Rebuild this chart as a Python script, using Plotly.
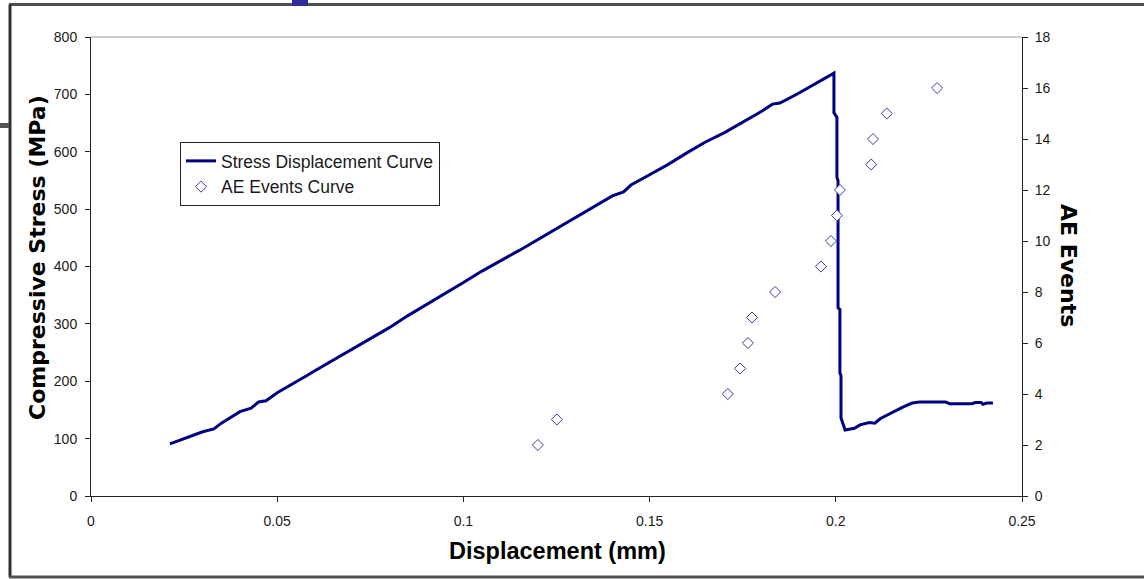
import plotly.graph_objects as go

# ---- data ----
disp_mm = [0.0212, 0.025, 0.030, 0.033, 0.035, 0.040, 0.043, 0.045, 0.047, 0.050, 0.055, 0.058,
           0.060, 0.065, 0.070, 0.075, 0.080, 0.085, 0.090, 0.095, 0.100, 0.105, 0.110,
           0.113, 0.115, 0.120, 0.125, 0.130, 0.135, 0.140, 0.143, 0.145, 0.150, 0.155,
           0.160, 0.165, 0.170, 0.175, 0.180, 0.183, 0.185, 0.190, 0.195, 0.1995,
           0.1995, 0.2003, 0.2003, 0.2006, 0.2006, 0.2011, 0.2011, 0.2014, 0.2014, 0.2020,
           0.2025, 0.2050, 0.2065, 0.2090, 0.2105, 0.2120, 0.2135, 0.2155, 0.2180, 0.2205,
           0.2225, 0.2295, 0.2305, 0.2365, 0.2375, 0.2390, 0.2395, 0.2405, 0.2422]
stress_mpa = [91, 100, 112, 117, 127, 147, 153, 164, 166, 180, 198, 210,
              218, 237, 255, 274, 293, 314, 333, 352, 372, 392, 411,
              421, 428, 447, 466, 486, 505, 523, 530, 542, 560, 578,
              598, 617, 633, 652, 670, 683, 685, 702, 720, 737,
              668, 660, 555, 550, 328, 325, 214, 210, 136, 125,
              115, 118, 124, 128, 127, 135, 140, 148, 155, 162,
              164, 164, 161, 161, 163, 163, 160, 162, 162]

ae_disp_mm = [0.1200, 0.1251, 0.1710, 0.1743, 0.1764, 0.1775, 0.1837, 0.1960,
              0.1987, 0.2003, 0.2011, 0.2095, 0.2100, 0.2137, 0.2272]
ae_events = [2, 3, 4, 5, 6, 7, 8, 9, 10, 11, 12, 13, 14, 15, 16]

x_ticks = [0, 0.05, 0.1, 0.15, 0.2, 0.25]
x_ticktext = ["0", "0.05", "0.1", "0.15", "0.2", "0.25"]

LINE_COLOR = "#000080"
MARKER_COLOR = "#3a3aa0"
FONT = "Liberation Sans, Arial, sans-serif"

fig = go.Figure()
fig.add_trace(go.Scatter(
    x=disp_mm, y=stress_mpa, mode="lines", name="Stress Displacement Curve",
    line=dict(color=LINE_COLOR, width=3), yaxis="y"))
fig.add_trace(go.Scatter(
    x=ae_disp_mm, y=ae_events, mode="markers", name="AE Events Curve",
    marker=dict(symbol="diamond", size=8.5, color="white",
                line=dict(color=MARKER_COLOR, width=1)),
    yaxis="y2"))

W, H = 1144, 579
L, R, T, B = 91, 122, 37, 83
pw, ph = W - L - R, H - T - B

def px(xp):
    return (xp - L) / pw

def py(yp):
    return (H - B - yp) / ph

tickfont = dict(family=FONT, size=14, color="#1a1a1a")

fig.update_layout(
    width=W, height=H,
    margin=dict(l=L, r=R, t=T, b=B),
    paper_bgcolor="white", plot_bgcolor="white",
    showlegend=True,
    xaxis=dict(range=[0, 0.25], tickvals=x_ticks, ticktext=x_ticktext,
               showgrid=False, zeroline=False, showline=True, linecolor="#222",
               linewidth=1, ticks="outside", ticklen=5, tickcolor="#222",
               tickfont=tickfont, ticklabelstandoff=7),
    yaxis=dict(range=[0, 800], dtick=100, showgrid=False, zeroline=False,
               showline=True, linecolor="#222", linewidth=1, ticks="outside",
               ticklen=5, tickcolor="#222", tickfont=tickfont, ticklabelstandoff=5),
    yaxis2=dict(range=[0, 18], dtick=2, overlaying="y", side="right", anchor="x",
                showgrid=False, zeroline=False, showline=True, linecolor="#222",
                linewidth=1, ticks="outside", ticklen=5, tickcolor="#222",
                tickfont=tickfont, ticklabelstandoff=4),
    yaxis3=dict(range=[0, 18], dtick=2, overlaying="y", side="right", anchor="x",
                showgrid=False, zeroline=False, showline=False, ticks="inside",
                ticklen=5, tickcolor="#222", showticklabels=False),
    legend=dict(x=px(180), y=py(142), xanchor="left", yanchor="top",
                bordercolor="#222", borderwidth=1, bgcolor="white",
                font=dict(family=FONT, size=17.5, color="#1a1a1a"),
                itemwidth=30, tracegroupgap=0),
    annotations=[
        dict(text="<b>Displacement (mm)</b>", x=px(557), y=py(551), xref="paper",
             yref="paper", xanchor="center", yanchor="middle", showarrow=False,
             font=dict(family=FONT, size=23.5, color="black")),
        dict(text="<b>Compressive Stress (MPa)</b>", x=px(37), y=py(258), xref="paper",
             yref="paper", xanchor="center", yanchor="middle", showarrow=False, textangle=-90,
             font=dict(family="DejaVu Sans, sans-serif", size=22, color="black")),
        dict(text="<b>AE Events</b>", x=px(1069), y=py(265), xref="paper",
             yref="paper", xanchor="center", yanchor="middle", showarrow=False, textangle=90,
             font=dict(family="DejaVu Sans, sans-serif", size=22, color="black")),
    ],
    shapes=[
        # top border of plot area (gray)
        dict(type="line", xref="paper", yref="paper", x0=0, x1=1, y0=1, y1=1,
             line=dict(color="#9a9a9a", width=1)),
        # outer frame of the screenshot
        dict(type="line", xref="paper", yref="paper", x0=px(9), x1=px(1144), y0=py(4.5), y1=py(4.5),
             line=dict(color="#505050", width=3)),
        dict(type="line", xref="paper", yref="paper", x0=px(10), x1=px(10), y0=py(4.5), y1=py(577),
             line=dict(color="#303030", width=3)),
        dict(type="line", xref="paper", yref="paper", x0=px(9), x1=px(1144), y0=py(577), y1=py(577),
             line=dict(color="#505050", width=3)),
        # small artifacts at the edges
        dict(type="rect", xref="paper", yref="paper", x0=px(292), x1=px(308), y0=py(6), y1=py(0),
             line=dict(width=0), fillcolor="#2f2f9a"),
        dict(type="rect", xref="paper", yref="paper", x0=px(0), x1=px(9), y0=py(128), y1=py(123),
             line=dict(width=0), fillcolor="#555555"),
    ],
)

fig.write_html("out.html")
